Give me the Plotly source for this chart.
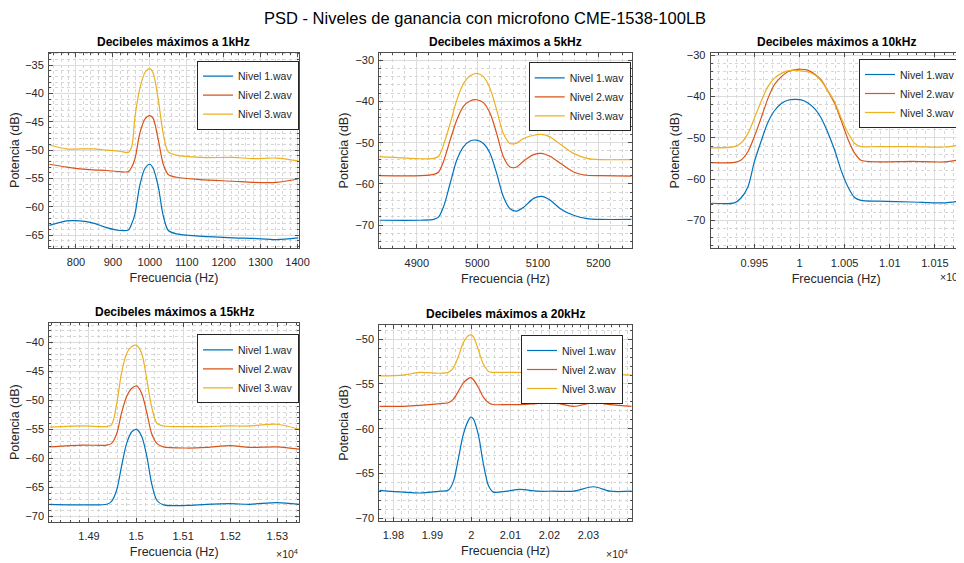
import plotly.graph_objects as go

# ---------------- data ----------------
series_names = ["Nivel 1.wav", "Nivel 2.wav", "Nivel 3.wav"]
series_colors = ["#0072BD", "#D95319", "#EDB120"]

# 1 kHz
f1 = [728, 775, 811, 847, 883, 919, 942, 951, 960, 973, 987, 1000, 1009, 1023, 1036, 1050, 1073, 1136, 1226, 1280, 1343, 1402]
p1_n1 = [-63.3, -62.5, -62.5, -62.9, -63.7, -64.2, -64.1, -63.0, -61.2, -56.2, -53.2, -52.5, -53.2, -56.5, -61.5, -64.2, -64.8, -65.2, -65.5, -65.6, -65.8, -65.5]
p1_n2 = [-52.5, -53.0, -53.3, -53.5, -53.6, -53.8, -53.8, -53.0, -51.5, -47.0, -44.5, -43.9, -44.4, -48.2, -52.4, -54.3, -54.8, -55.2, -55.5, -55.7, -55.7, -55.1]
p1_n3 = [-49.1, -49.8, -49.8, -49.8, -50.0, -50.2, -50.4, -49.4, -44.1, -39.1, -36.3, -35.6, -36.4, -41.1, -47.0, -50.3, -50.9, -51.3, -51.3, -51.5, -51.4, -51.9]

# 5 kHz
f2 = [4838, 4906, 4928, 4936, 4944, 4955, 4966, 4977, 4988, 4999, 5010, 5021, 5032, 5043, 5054, 5065, 5076, 5093, 5106, 5120, 5137, 5159, 5181, 5203, 5255]
p2_n1 = [-68.8, -68.8, -68.6, -68.0, -65.6, -59.9, -54.2, -51.0, -49.6, -49.4, -50.2, -52.6, -57.5, -63.1, -66.0, -66.6, -65.7, -63.5, -63.0, -63.9, -66.0, -67.6, -68.4, -68.6, -68.6]
p2_n2 = [-58.0, -58.0, -57.7, -57.1, -54.6, -49.4, -44.5, -41.2, -39.9, -39.6, -40.3, -42.9, -47.8, -53.4, -55.9, -55.9, -54.5, -52.9, -52.6, -53.3, -55.0, -57.1, -57.9, -58.0, -58.1]
p2_n3 = [-53.4, -53.9, -53.8, -53.3, -50.6, -45.4, -39.7, -35.7, -33.8, -33.2, -34.0, -36.9, -42.1, -47.8, -50.2, -50.1, -49.0, -48.2, -48.0, -48.6, -50.4, -52.6, -53.8, -54.1, -54.1]

# 10 kHz
f3 = [9902, 9928, 9935, 9943, 9950, 9958, 9965, 9972, 9980, 9987, 9995, 10002, 10009, 10017, 10024, 10031, 10039, 10046, 10054, 10061, 10068, 10087, 10124, 10161, 10180]
p3_n1 = [-65.8, -65.7, -64.6, -61.8, -55.8, -50.5, -46.3, -43.5, -41.7, -40.9, -40.7, -40.8, -41.5, -43.0, -45.2, -48.5, -53.0, -57.8, -62.0, -64.4, -65.1, -65.3, -65.5, -65.7, -65.2]
p3_n2 = [-56.0, -55.9, -55.4, -53.3, -49.7, -44.9, -40.5, -37.2, -35.2, -34.0, -33.5, -33.4, -33.6, -34.6, -36.0, -38.5, -41.7, -45.7, -50.5, -53.7, -55.4, -55.8, -55.7, -55.8, -55.2]
p3_n3 = [-52.4, -52.1, -51.3, -48.9, -45.3, -40.9, -37.6, -35.6, -34.4, -33.8, -33.6, -33.8, -34.0, -34.8, -36.2, -38.5, -41.3, -45.1, -48.9, -51.3, -52.1, -52.1, -52.1, -52.2, -51.6]

# 15 kHz
f4 = [14816, 14888, 14938, 14948, 14959, 14969, 14980, 14991, 15001, 15012, 15023, 15033, 15044, 15058, 15107, 15150, 15200, 15242, 15299, 15347]
p4_n1 = [-67.9, -68.0, -67.9, -67.4, -65.4, -61.4, -57.4, -55.4, -55.0, -56.2, -59.7, -64.3, -67.2, -68.0, -68.1, -67.9, -67.8, -67.9, -67.6, -67.9]
p4_n2 = [-58.0, -57.7, -57.7, -57.4, -55.7, -52.2, -49.3, -47.9, -47.5, -48.8, -52.2, -55.7, -57.4, -58.0, -58.2, -58.1, -57.8, -58.1, -58.0, -58.4]
p4_n3 = [-54.6, -54.4, -54.5, -54.2, -50.5, -45.3, -41.9, -40.7, -40.5, -41.9, -46.5, -51.1, -53.9, -54.4, -54.5, -54.5, -54.4, -54.4, -54.1, -55.0]

# 20 kHz
f5 = [19764, 19826, 19868, 19920, 19941, 19954, 19967, 19979, 19992, 19998, 20005, 20018, 20031, 20044, 20056, 20091, 20125, 20168, 20210, 20262, 20313, 20356, 20411]
p5_n1 = [-66.9, -67.1, -67.2, -67.0, -66.9, -65.9, -63.3, -60.7, -59.1, -58.7, -58.9, -60.7, -64.0, -66.4, -67.1, -67.0, -66.8, -67.0, -67.0, -67.0, -66.5, -67.0, -67.0]
p5_n2 = [-57.5, -57.5, -57.4, -57.2, -57.1, -56.7, -55.8, -54.9, -54.4, -54.3, -54.5, -55.4, -56.5, -57.1, -57.3, -57.3, -57.3, -57.2, -57.1, -57.5, -57.1, -57.3, -57.5]
p5_n3 = [-54.1, -54.0, -53.7, -53.8, -53.7, -53.2, -51.9, -50.4, -49.6, -49.5, -49.7, -51.2, -52.8, -53.6, -53.7, -53.7, -53.7, -53.8, -53.8, -53.8, -53.8, -53.9, -54.0]

subplot_titles = ["Decibeles máximos a 1kHz", "Decibeles máximos a 5kHz", "Decibeles máximos a 10kHz",
                  "Decibeles máximos a 15kHz", "Decibeles máximos a 20kHz"]

# tick labels
xt1_vals = [800, 900, 1000, 1100, 1200, 1300, 1400]
xt1_text = ["800", "900", "1000", "1100", "1200", "1300", "1400"]
xt2_vals = [4900, 5000, 5100, 5200]
xt2_text = ["4900", "5000", "5100", "5200"]
xt3_vals = [9950, 10000, 10050, 10100, 10150]
xt3_text = ["0.995", "1", "1.005", "1.01", "1.015"]
xt4_vals = [14900, 15000, 15100, 15200, 15300]
xt4_text = ["1.49", "1.5", "1.51", "1.52", "1.53"]
xt5_vals = [19800, 19900, 20000, 20100, 20200, 20300]
xt5_text = ["1.98", "1.99", "2", "2.01", "2.02", "2.03"]

# ---------------- layout helpers ----------------
OFF = 8                      # default page body margin
W, H = 964 - OFF, 563 - OFF  # figure size so that it fills the window
FONT = "Liberation Sans, Arial, Helvetica, sans-serif"
TXT = "#262626"


def px(p):
    return (p - OFF) / W


def py(p):
    return 1 - (p - OFF) / H


def dx(a, b):
    return [px(a), px(b)]


def dy(top, bot):
    return [py(bot), py(top)]


panels = [
    dict(f=f1, ys=[p1_n1, p1_n2, p1_n3], xd=dx(49, 299), yd=dy(52.7, 247.5), xr=[727, 1404], yr=[-67.2, -32.8],
         xv=xt1_vals, xtx=xt1_text, xminor=20, ydt=5, yminor=1, leg=(299, 60.7), exp=None),
    dict(f=f2, ys=[p2_n1, p2_n2, p2_n3], xd=dx(379.3, 631.7), yd=dy(52.7, 248.3), xr=[4838, 5255], yr=[-75.6, -28.2],
         xv=xt2_vals, xtx=xt2_text, xminor=20, ydt=10, yminor=2, leg=(630.7, 62.3), exp=None),
    dict(f=f3, ys=[p3_n1, p3_n2, p3_n3], xd=dx(710.7, 961.7), yd=dy(52.7, 248.3), xr=[9901.7, 10179.6], yr=[-76.7, -29.4],
         xv=xt3_vals, xtx=xt3_text, xminor=10, ydt=10, yminor=2, leg=(961, 59), exp=(951, 277)),
    dict(f=f4, ys=[p4_n1, p4_n2, p4_n3], xd=dx(49.3, 299.3), yd=dy(322.7, 521.7), xr=[14815.7, 15346.7], yr=[-70.9, -36.6],
         xv=xt4_vals, xtx=xt4_text, xminor=20, ydt=5, yminor=1, leg=(299, 334.3), exp=(287, 553)),
    dict(f=f5, ys=[p5_n1, p5_n2, p5_n3], xd=dx(379.3, 631.7), yd=dy(325, 520.7), xr=[19764, 20411], yr=[-70.3, -48.4],
         xv=xt5_vals, xtx=xt5_text, xminor=20, ydt=5, yminor=1, leg=(623, 335), exp=(617, 553)),
]

fig = go.Figure()
layout = dict(
    width=W, height=H, margin=dict(l=0, r=0, t=0, b=0, autoexpand=False),
    paper_bgcolor="white", plot_bgcolor="white",
    font=dict(family=FONT, color=TXT, size=11),
    showlegend=True,
)
annotations = []

for i, p in enumerate(panels):
    k = i + 1
    sfx = "" if k == 1 else str(k)
    legname = "legend" if k == 1 else f"legend{k}"
    for name, col, yv in zip(series_names, series_colors, p["ys"]):
        fig.add_trace(go.Scatter(
            x=p["f"], y=yv, mode="lines", name=name,
            line=dict(color=col, width=1.2, shape="spline", smoothing=0.8),
            xaxis=f"x{sfx}", yaxis=f"y{sfx}", legend=legname,
        ))
    common = dict(showline=True, linecolor="#4d4d4d", linewidth=1, mirror="ticks",
                  ticks="inside", ticklen=4, tickcolor="#4d4d4d", automargin=False,
                  showgrid=True, gridcolor="#dcdcdc", gridwidth=1, zeroline=False,
                  tickfont=dict(family=FONT, size=11, color=TXT))
    layout[f"xaxis{sfx}"] = dict(
        common, domain=p["xd"], anchor=f"y{sfx}", range=p["xr"],
        tickmode="array", tickvals=p["xv"], ticktext=p["xtx"], ticklabelstandoff=4,
        minor=dict(tickmode="linear", tick0=0, dtick=p["xminor"], showgrid=True, gridcolor="#d6d6d6",
                   griddash="dot", gridwidth=1, ticks="inside", ticklen=2, tickcolor="#4d4d4d"),
        title=dict(text="Frecuencia (Hz)", font=dict(family=FONT, size=12.5, color=TXT), standoff=6),
    )
    layout[f"yaxis{sfx}"] = dict(
        common, domain=p["yd"], anchor=f"x{sfx}", range=p["yr"],
        tickmode="linear", tick0=0, dtick=p["ydt"], ticklabelstandoff=2,
        minor=dict(tickmode="linear", tick0=0, dtick=p["yminor"], showgrid=True, gridcolor="#d6d6d6",
                   griddash="dot", gridwidth=1, ticks="inside", ticklen=2, tickcolor="#4d4d4d"),
        title=dict(text="Potencia (dB)", font=dict(family=FONT, size=12.5, color=TXT), standoff=4),
    )
    lx, ly = p["leg"]
    layout[legname] = dict(
        x=px(lx), y=py(ly), xanchor="right", yanchor="top",
        bgcolor="white", bordercolor="#262626", borderwidth=1,
        font=dict(family=FONT, size=10.5, color=TXT), itemwidth=30, tracegroupgap=0,
    )
    # subplot title
    xc = (p["xd"][0] + p["xd"][1]) / 2
    annotations.append(dict(
        x=xc, y=p["yd"][1], xref="paper", yref="paper", xanchor="center", yanchor="bottom",
        yshift=2, showarrow=False, text=f"<b>{subplot_titles[i]}</b>",
        font=dict(family=FONT, size=12, color="#000000"),
    ))
    if p["exp"]:
        ex, ey = p["exp"]
        annotations.append(dict(
            x=px(ex), y=py(ey), xref="paper", yref="paper", xanchor="center", yanchor="middle",
            showarrow=False, text="×10<sup>4</sup>",
            font=dict(family=FONT, size=10.5, color=TXT),
        ))

annotations.append(dict(
    x=px(484.5), y=py(18), xref="paper", yref="paper", xanchor="center", yanchor="middle",
    showarrow=False, text="PSD - Niveles de ganancia con microfono CME-1538-100LB",
    font=dict(family=FONT, size=16.5, color="#000000"),
))
layout["annotations"] = annotations
fig.update_layout(**layout)
fig.write_html("out.html")
